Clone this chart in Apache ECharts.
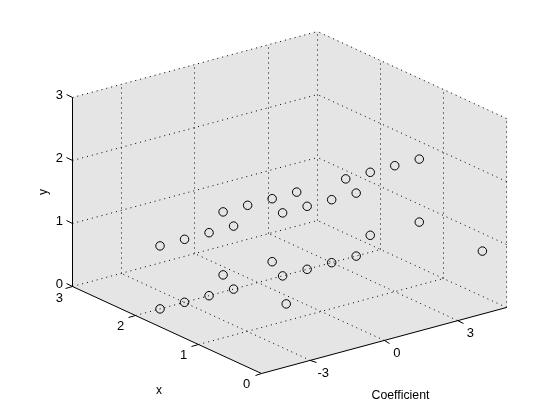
<!DOCTYPE html>
<html>
<head>
<meta charset="utf-8">
<style>html,body{margin:0;padding:0;background:#fff}#chart{width:560px;height:420px}</style>
<script src="https://cdn.jsdelivr.net/npm/echarts@6/dist/echarts.min.js"></script>
</head>
<body>
<div id="chart"></div>
<script>
// Data
var coefficientValues = [-4,-3,-2,-1,1,2,3,4, -4,-3,-2,-1,1,2,3,4, -4,-3,-2,-1,1,2,3,4, -4,-2,2,4, -4,4];
var xValues           = [ 2, 2, 2, 2,2,2,2,2,  2, 2, 2, 2,2,2,2,2,  1, 1, 1, 1,1,1,1,1,  1, 1,1,1,  0,0];
var yValues           = [ 0, 0, 0, 0,0,0,0,0,  1, 1, 1, 1,1,1,1,1,  2, 2, 2, 2,2,2,2,2,  1, 1,1,1,  1,1];
var coefficientTicks = [-3, 0, 3];
var xTicks = [0, 1, 2, 3];
var yTicks = [0, 1, 2, 3];
var coefficientRange = [-5, 5];
var xRange = [0, 3];
var yRange = [0, 3];

// Orthographic view of the 3-D box
var view = {ox: 261.7, oy: 373.5, cx: 24.52, cy: -6.6, xx: -63.1, xy: -29, yy: -63};
function project(c, x, y) {
  var u = c - coefficientRange[0];
  return [view.ox + u * view.cx + x * view.xx, view.oy + u * view.cy + x * view.xy + y * view.yy];
}
var cMin = coefficientRange[0], cMax = coefficientRange[1];
var xMin = xRange[0], xMax = xRange[1];
var yMin = yRange[0], yMax = yRange[1];

var walls = [
  [[cMin,xMin,yMin],[cMax,xMin,yMin],[cMax,xMax,yMin],[cMin,xMax,yMin]],
  [[cMin,xMax,yMin],[cMax,xMax,yMin],[cMax,xMax,yMax],[cMin,xMax,yMax]],
  [[cMax,xMin,yMin],[cMax,xMax,yMin],[cMax,xMax,yMax],[cMax,xMin,yMax]]
];

var dotted = [];
function seg(list, a, b) { list.push(project(a[0],a[1],a[2]).concat(project(b[0],b[1],b[2]))); }
coefficientTicks.forEach(function (c) {
  seg(dotted, [c,xMin,yMin], [c,xMax,yMin]);
  seg(dotted, [c,xMax,yMin], [c,xMax,yMax]);
});
xTicks.forEach(function (x) {
  if (x !== xMin && x !== xMax) seg(dotted, [cMin,x,yMin], [cMax,x,yMin]);
  seg(dotted, [cMax,x,yMin], [cMax,x,yMax]);
});
yTicks.forEach(function (y) {
  seg(dotted, [cMin,xMax,y], [cMax,xMax,y]);
  seg(dotted, [cMax,xMin,y], [cMax,xMax,y]);
});

var solid = [];
seg(solid, [cMin,xMax,yMin], [cMin,xMax,yMax]);
seg(solid, [cMin,xMin,yMin], [cMin,xMax,yMin]);
seg(solid, [cMin,xMin,yMin], [cMax,xMin,yMin]);
yTicks.forEach(function (y) { seg(solid, [cMin,xMax,y], [cMin,xMax+0.09,y]); });
xTicks.forEach(function (x) { seg(solid, [cMin,x,yMin], [cMin-0.27,x,yMin]); });
coefficientTicks.forEach(function (c) { seg(solid, [c,xMin,yMin], [c,xMin-0.09,yMin]); });

var labels = [];
function lab(p, dx, dy, text, size, rot) { labels.push([p[0]+dx, p[1]+dy, text, size, rot || 0]); }
yTicks.forEach(function (y) { lab(project(cMin,xMax,y), -13, -2.5, String(y), 13); });
xTicks.forEach(function (x) { lab(project(cMin,x,yMin), x === xMax ? -13 : -15, x === xMax ? 12 : 11, String(x), 13); });
coefficientTicks.forEach(function (c) { lab(project(c,xMin,yMin), 12.5, 13, String(c), 13); });
labels.push([400.5, 395.5, 'Coefficient', 12.3, 0]);
labels.push([159, 391, 'x', 12, 0]);
labels.push([44, 192, 'y', 12, Math.PI / 2]);

var points = coefficientValues.map(function (c, i) { return project(c, xValues[i], yValues[i]); });

function snap(v) { return Math.floor(v) + 0.5; }
function lineRenderer(style) {
  return function (params, api) {
    var a = api.coord([api.value(0), api.value(1)]);
    var b = api.coord([api.value(2), api.value(3)]);
    return {type: 'line', shape: {x1: snap(a[0]), y1: snap(a[1]), x2: snap(b[0]), y2: snap(b[1])}, style: style, silent: true};
  };
}

var chart = echarts.init(document.getElementById('chart'));
chart.setOption({
  animation: false,
  backgroundColor: '#ffffff',
  grid: {left: 0, right: 0, top: 0, bottom: 0},
  xAxis: {type: 'value', min: 0, max: 560, show: false},
  yAxis: {type: 'value', min: 0, max: 420, inverse: true, show: false},
  tooltip: {show: false},
  series: [
    {
      name: 'walls', type: 'custom', coordinateSystem: 'cartesian2d', clip: false, z: 1,
      data: walls.map(function (w, i) { return [i]; }),
      encode: {x: 0},
      renderItem: function (params, api) {
        var w = walls[api.value(0)];
        return {
          type: 'polygon',
          shape: {points: w.map(function (p) { return api.coord(project(p[0], p[1], p[2])); })},
          style: {fill: '#e5e5e5', stroke: '#e5e5e5', lineWidth: 0.5},
          silent: true
        };
      }
    },
    {
      name: 'grid lines', type: 'custom', coordinateSystem: 'cartesian2d', clip: false, z: 2,
      data: dotted, encode: {x: [0, 2], y: [1, 3]},
      renderItem: lineRenderer({stroke: '#000', lineWidth: 1, lineDash: [1, 4], fill: null})
    },
    {
      name: 'axes', type: 'custom', coordinateSystem: 'cartesian2d', clip: false, z: 3,
      data: solid, encode: {x: [0, 2], y: [1, 3]},
      renderItem: lineRenderer({stroke: '#000', lineWidth: 1, fill: null})
    },
    {
      name: 'labels', type: 'custom', coordinateSystem: 'cartesian2d', clip: false, z: 3,
      data: labels, encode: {x: 0, y: 1},
      renderItem: function (params, api) {
        var l = labels[params.dataIndex];
        var c = api.coord([l[0], l[1]]);
        return {
          type: 'text', x: c[0], y: c[1], rotation: l[4], silent: true,
          style: {text: l[2], fill: '#000', font: l[3] + 'px "Liberation Sans", Arial, sans-serif', align: 'center', verticalAlign: 'middle'}
        };
      }
    },
    {
      name: 'points', type: 'scatter', z: 4, clip: false, silent: true,
      symbol: 'circle', symbolSize: 8.5,
      itemStyle: {color: 'transparent', borderColor: '#000', borderWidth: 1, opacity: 1},
      data: points
    }
  ]
});
</script>
</body>
</html>
